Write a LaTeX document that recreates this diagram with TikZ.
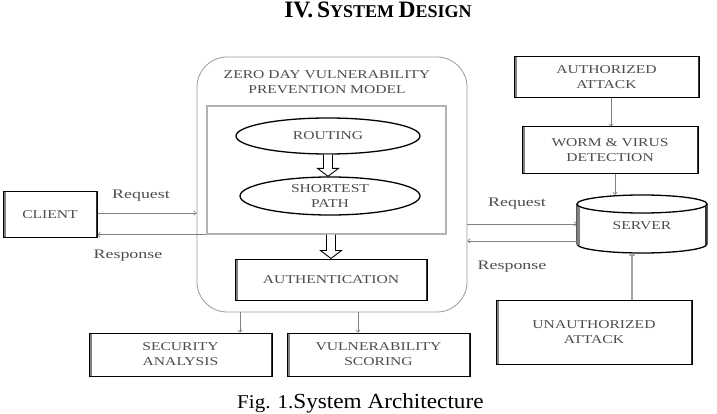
\documentclass[tikz,border=0pt]{standalone}
\usepackage{fontspec}
\setmainfont{Liberation Serif}
\newfontfamily\boxfont[FakeStretch=1.3]{Liberation Serif}
\newfontfamily\lblfont[FakeStretch=1.38]{Liberation Serif}
\newfontfamily\capfont[FakeStretch=1.08]{Liberation Serif}
\usetikzlibrary{shapes.geometric,arrows.meta,calc}
\begin{document}
\begin{tikzpicture}[x=1pt,y=-1pt,
  boxtext/.style={font=\boxfont\fontsize{12}{15}\selectfont, text=black!70, align=center},
  blk/.style={boxtext, draw=black, line width=1pt, inner sep=0pt,
    path picture={\draw[gray, line width=5pt] (path picture bounding box.south west) -- (path picture bounding box.north west);
                  \draw[black!80, line width=3pt] (path picture bounding box.south east) -- (path picture bounding box.north east);}},
  ell/.style={boxtext, ellipse, draw=black, line width=1.3pt, inner sep=0pt},
  conn/.style={draw=gray, line width=0.6pt, -{To[length=3pt,width=5pt]}},
  lbl/.style={font=\lblfont\fontsize{13}{15}\selectfont, text=black!70},
  hollow/.style={draw=black, line width=0.9pt, fill=white, line join=miter},
  ]
\useasboundingbox (0,0) rectangle (717,414);

% title
\node[anchor=base, font=\bfseries, inner sep=0pt] (title) at (378,17.5)
  {\fontsize{23.5}{24}\selectfont IV.\,S\fontsize{18}{18}\selectfont YSTEM \fontsize{23.5}{24}\selectfont D\fontsize{18}{18}\selectfont ESIGN};

% big rounded box
\node[draw=gray!80, line width=0.8pt, rounded corners=30pt, minimum width=270pt, minimum height=255pt] (zdm) at (332,184.5) {};
\node[boxtext] (zdmt) at (327,82) {ZERO DAY VULNERABILITY\\PREVENTION MODEL};
\node[draw=gray!60, line width=1.2pt, minimum width=239pt, minimum height=128pt] (inner) at (326.5,170) {};

\node[ell, minimum width=184pt, minimum height=36pt] (routing) at (328,136) {ROUTING};
\node[ell, minimum width=180pt, minimum height=38pt] (shortest) at (330,196) {SHORTEST\\PATH};
\node[blk, minimum width=192pt, minimum height=41pt] (authn) at (331,279.5) {AUTHENTICATION};

% hollow double arrows
\coordinate (d1a) at (routing.south);
\coordinate (d1b) at (routing.south |- shortest.north);
\draw[hollow] ($(d1a)+(-4.5,0)$) -- ($(d1b)+(-4.5,-8)$) -- ($(d1b)+(-10.5,-8)$) -- (d1b)
  -- ($(d1b)+(10.5,-8)$) -- ($(d1b)+(4.5,-8)$) -- ($(d1a)+(4.5,0)$);
\coordinate (d2a) at (authn.north |- inner.south);
\coordinate (d2b) at (authn.north);
\draw[hollow] ($(d2a)+(-4.5,0)$) -- ($(d2b)+(-4.5,-8)$) -- ($(d2b)+(-10.5,-8)$) -- (d2b)
  -- ($(d2b)+(10.5,-8)$) -- ($(d2b)+(4.5,-8)$) -- ($(d2a)+(4.5,0)$);

% client
\node[blk, minimum width=94pt, minimum height=45pt] (client) at (50,214.5) {CLIENT};
\draw[conn] ([yshift=1.5pt]client.east) -- ([yshift=1.5pt]client.east -| zdm.west);
\draw[conn] (inner.south west) -- (inner.south west -| client.east);
\node[lbl] (req1) at (141,196) {Request};
\node[lbl] (resp1) at (128,256) {Response};

% bottom boxes
\node[blk, minimum width=183pt, minimum height=43pt] (secu) at (180.5,354.5) {SECURITY\\ANALYSIS};
\node[blk, minimum width=183pt, minimum height=43pt] (vuln) at (378.5,354.5) {VULNERABILITY\\SCORING};
\draw[conn] ([xshift=59.5pt]secu.north |- zdm.south) -- ([xshift=59.5pt]secu.north);
\draw[conn] ([xshift=-20.5pt]vuln.north |- zdm.south) -- ([xshift=-20.5pt]vuln.north);

% right side
\node[blk, minimum width=185pt, minimum height=41pt] (autha) at (606.5,77.5) {AUTHORIZED\\ATTACK};
\node[blk, minimum width=176pt, minimum height=47pt] (worm) at (610,150.5) {WORM \& VIRUS\\DETECTION};
\node[boxtext, minimum width=130pt, minimum height=58pt, inner sep=0pt] (server) at (642,224) {};
\draw[black, line width=1.3pt, fill=white] (577,204) -- (577,244) arc[start angle=180, end angle=360, x radius=65pt, y radius=9pt] -- (707,204);
\draw[black, line width=1.3pt, fill=white] (642,204) ellipse[x radius=65pt, y radius=9pt];
\draw[gray, line width=3pt] (578,207) -- (578,245);
\draw[black!80, line width=2pt] (706,207) -- (706,245);
\node[boxtext] (servert) at (642,226) {SERVER};

\draw[conn] ([xshift=4.5pt]autha.south) -- ([xshift=4.5pt]autha.south |- worm.north);
\draw[conn] ([xshift=5pt]worm.south) -- ([xshift=5pt]worm.south |- server.north);

\node[blk, minimum width=196pt, minimum height=64pt] (unauth) at (594,332) {UNAUTHORIZED\\ATTACK};
\draw[draw=gray!70, line width=2.2pt, -{To[length=3pt,width=6pt]}] ([xshift=38pt]unauth.north) -- ([xshift=38pt]unauth.north |- server.south);

\draw[conn] (zdm.east |- server.center) -- (server.west);
\draw[conn] ([yshift=-17pt]server.west) -- ([yshift=-17pt]server.west -| zdm.east);
\node[lbl] (req2) at (517,204) {Request};
\node[lbl] (resp2) at (512,267) {Response};

% caption
\node[anchor=base west, inner sep=0pt, font=\capfont] (cap) at (237,408)
  {\fontsize{19.5}{20}\selectfont Fig. 1.\fontsize{21.5}{22}\selectfont System Architecture};
\end{tikzpicture}
\end{document}
